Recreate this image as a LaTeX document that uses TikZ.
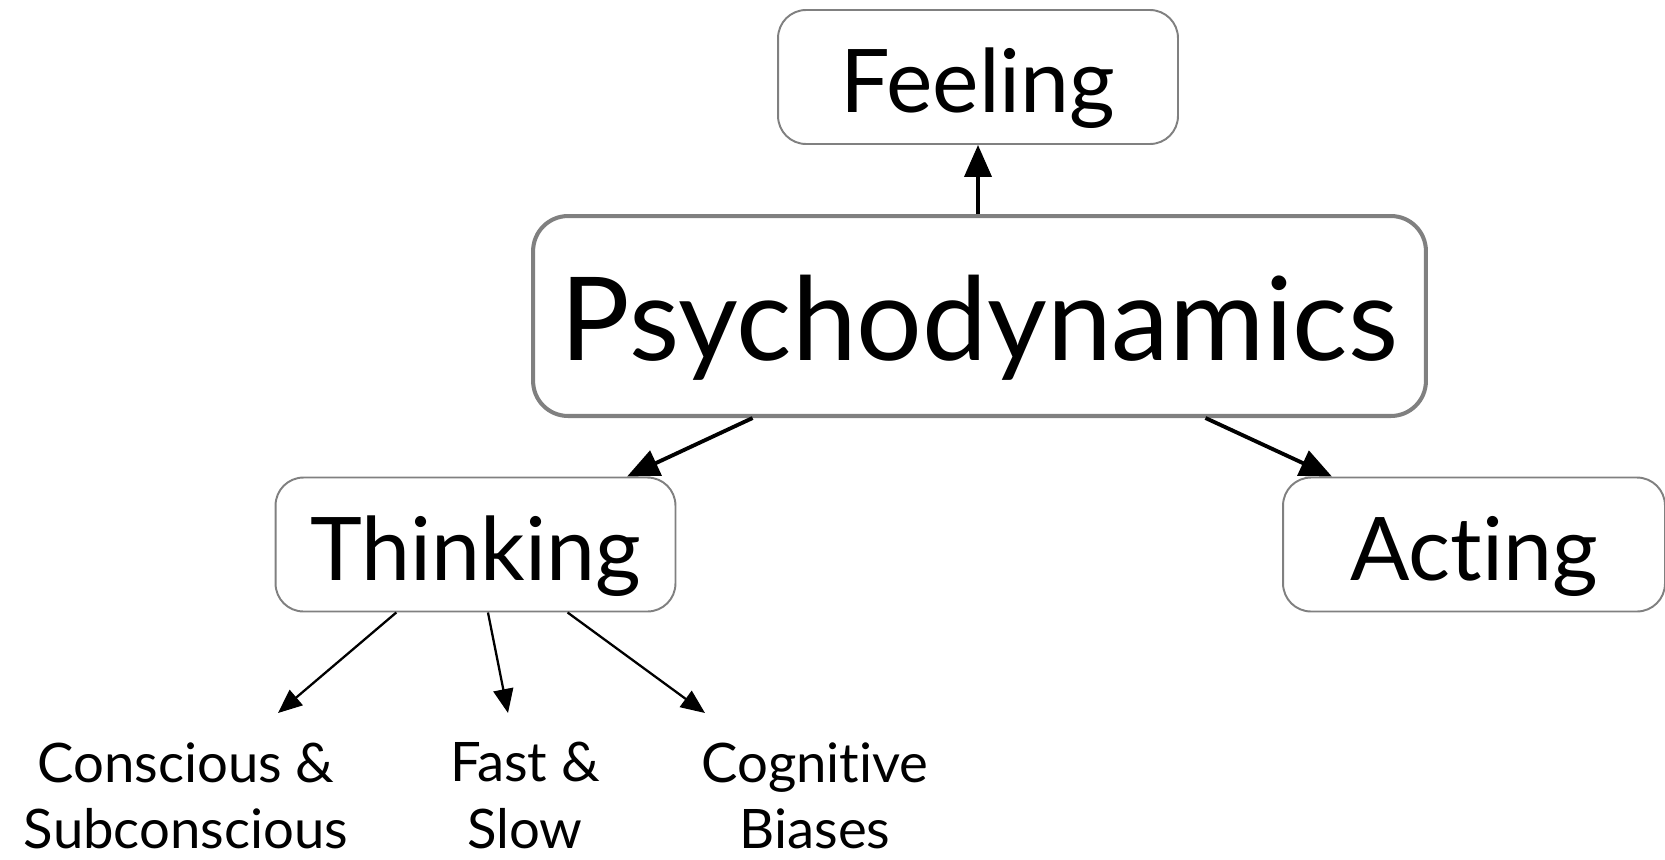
\documentclass[tikz,border=0pt]{standalone}
\usepackage{fontspec}
\setmainfont[Ligatures=NoCommon]{Lato}
\usepackage{tikz}
\usetikzlibrary{arrows.meta, calc}
\definecolor{boxGray}{RGB}{128, 128, 128}
\tikzset{
  mapbox/.style={
    draw=boxGray,
    line width=1.1pt,
    fill=white,
    rounded corners=0.56cm,
    inner sep=0pt,
    text height=2.06cm,
    text depth=0.62cm,
    font=\fontsize{50}{60}\selectfont
  },
  mainbox/.style={
    mapbox,
    line width=2.3pt,
    rounded corners=0.7cm,
    text height=2.9cm,
    text depth=1.1cm,
    font=\fontsize{66}{80}\selectfont
  },
  leaflabel/.style={
    align=center,
    inner sep=0pt,
    font=\fontsize{31}{38}\selectfont
  },
  bigarrow/.style={
    -{Triangle[length=0.64cm, width=0.54cm]},
    line width=2.2pt
  },
  smallarrow/.style={
    -{Triangle[length=0.48cm, width=0.4cm]},
    line width=1.3pt
  }
}

\begin{document}
\begin{tikzpicture}[x=0.02cm, y=-0.02cm]
      \useasboundingbox (0,0) rectangle (1665,859);

      % Boxes
      \node[mainbox, minimum width=17.86cm] (psy) at (979.5, 316) {Psychodynamics};
      \node[mapbox, minimum width=8cm] (feel) at (978, 77) {Feeling};
      \node[mapbox, minimum width=8cm] (think) at (475.5, 544.5) {Thinking};
      \node[mapbox, minimum width=7.64cm] (act) at (1474, 544.5) {Acting};

      % Leaves under Thinking
      \node[leaflabel, anchor=north] (consc) at (186, 742) {Conscious \&\\Subconscious};
      \node[leaflabel, anchor=north] (fast) at (525, 742) {Fast \&\\Slow};
      \node[leaflabel, anchor=north] (bias) at (815, 742) {Cognitive\\Biases};
      \coordinate (conscEnd) at (278, 713);
      \coordinate (fastEnd) at (508, 713);
      \coordinate (biasEnd) at (705, 713);

      % Arrows
      \draw[bigarrow] (psy.north -| feel.south) -- (feel.south);
      \draw[bigarrow] ($(psy.south west)!0.247!(psy.south east)$) -- ($(think.north west)!0.877!(think.north east)$);
      \draw[bigarrow] ($(psy.south west)!0.752!(psy.south east)$) -- ($(act.north west)!0.13!(act.north east)$);
      \draw[smallarrow] ($(think.south west)!0.303!(think.south east)$) -- (conscEnd);
      \draw[smallarrow] ($(think.south west)!0.531!(think.south east)$) -- (fastEnd);
      \draw[smallarrow] ($(think.south west)!0.729!(think.south east)$) -- (biasEnd);
\end{tikzpicture}
\end{document}
